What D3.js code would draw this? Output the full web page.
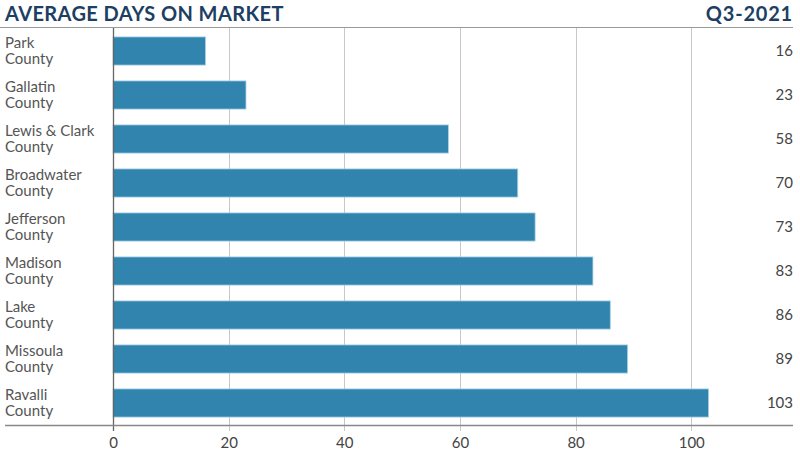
<!DOCTYPE html>
<html><head><meta charset="utf-8">
<script src="https://cdn.jsdelivr.net/npm/d3@7"></script>
<style>
html,body{margin:0;padding:0;background:#fff;}
svg{display:block;font-family:Lato,"Open Sans",sans-serif;}
</style></head>
<body>
<svg id="chart" width="800" height="464"></svg>
<script>
(function(){
const categories = ["Park County","Gallatin County","Lewis & Clark County","Broadwater County","Jefferson County","Madison County","Lake County","Missoula County","Ravalli County"];
const values = [16,23,58,70,73,83,86,89,103];
const ticks = [0,20,40,60,80,100];
const title = "AVERAGE DAYS ON MARKET";
const period = "Q3-2021";

const svg = d3.select("#chart");
const left = 113, right = 793, bottom = 425;

const x = d3.scaleLinear().domain([0,117.6]).range([left,right]);
const y = d3.scaleBand().domain(categories).range([29,bottom]).paddingInner(0.36).paddingOuter(0.18);

// title
svg.append("text").attr("x",5).attr("y",21).text(title)
  .attr("font-size",20).attr("font-weight",700).attr("letter-spacing","0.4px").attr("fill","#1d3f63");
svg.append("text").attr("x",right).attr("y",21).attr("text-anchor","end").text(period)
  .attr("font-size",20).attr("font-weight",700).attr("letter-spacing","0.8px").attr("fill","#1d3f63");
svg.append("line").attr("x1",0).attr("x2",right).attr("y1",27.5).attr("y2",27.5)
  .attr("stroke","#999").attr("stroke-width",1.2);

// gridlines
svg.append("g").selectAll("line").data(ticks.filter(t=>t>0)).join("line")
  .attr("x1",d=>Math.round(x(d))+0.5).attr("x2",d=>Math.round(x(d))+0.5)
  .attr("y1",28).attr("y2",bottom+6).attr("stroke","#c8c8c8").attr("stroke-width",1);

// bars
svg.append("g").selectAll("rect").data(values).join("rect")
  .attr("x",x(0)).attr("y",(d,i)=>y(categories[i]))
  .attr("width",d=>x(d)-x(0)).attr("height",y.bandwidth())
  .attr("fill","#3184ad").attr("stroke","#a9d3e8").attr("stroke-width",0.8);

// zero axis
svg.append("line").attr("x1",left+0.5).attr("x2",left+0.5).attr("y1",28).attr("y2",bottom+6)
  .attr("stroke","#666").attr("stroke-width",1.3);
// bottom axis
svg.append("line").attr("x1",5).attr("x2",right).attr("y1",bottom+0.5).attr("y2",bottom+0.5)
  .attr("stroke","#888").attr("stroke-width",1.3);

// tick labels
const xa = d3.axisBottom(x).tickValues(ticks).tickSize(0).tickPadding(12);
const gx = svg.append("g").attr("transform",`translate(0,${bottom})`).call(xa);
gx.select(".domain").remove();
gx.selectAll("text").attr("font-size",15).attr("fill","#444").attr("font-family","Lato,'Open Sans',sans-serif");

// category labels
const lab = svg.append("g").selectAll("text").data(categories).join("text")
  .attr("x",5).attr("font-size",15).attr("fill","#555");
lab.each(function(d){
  const first = d.replace(/ County$/,"");
  const t = d3.select(this);
  const cy = y(d)+y.bandwidth()/2;
  t.append("tspan").attr("x",5).attr("y",cy-3).text(first);
  t.append("tspan").attr("x",5).attr("y",cy+13).text("County");
});

// value labels
svg.append("g").selectAll("text").data(values).join("text")
  .attr("x",right).attr("y",(d,i)=>y(categories[i])+y.bandwidth()/2+5)
  .attr("text-anchor","end").attr("font-size",15).attr("fill","#444")
  .text(d=>d);
})();
</script>
</body></html>
